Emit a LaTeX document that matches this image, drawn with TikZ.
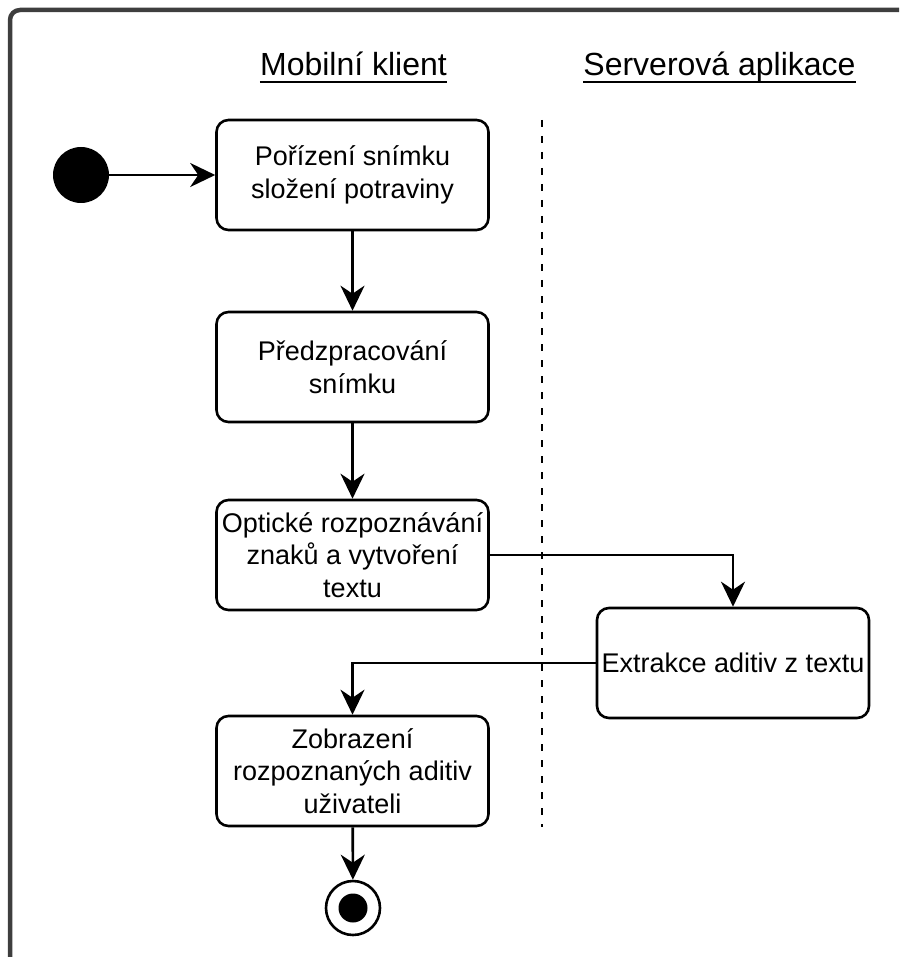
\documentclass[tikz,border=0pt]{standalone}
\usepackage{fontspec}
\setmainfont{Liberation Sans}
\usetikzlibrary{arrows.meta}
\begin{document}
\begin{tikzpicture}[x=1pt,y=-1pt,
  every node/.style={font=\fontsize{27}{32.4}\selectfont},
  act/.style={draw, line width=2.6pt, rounded corners=12pt,
    minimum width=272pt, minimum height=110pt, align=center, inner sep=0pt},
  flow/.style={line width=2.6pt, -{Stealth[length=25pt,width=24pt,inset=8pt]}},
  lanehead/.style={font=\fontsize{32}{38}\selectfont, inner sep=0pt, anchor=base},
  underl/.style={line width=2.6pt},
  lane/.style={line width=2.6pt, dash pattern=on 7pt off 9pt},
]
\useasboundingbox (0,0) rectangle (899,957);

% outer frame (runs past the right and bottom edges)
\begin{scope}
  \clip (0,0) rectangle (899,957);
  \draw[line width=4.5pt, draw={rgb,255:red,62;green,62;blue,62}, rounded corners=10pt]
    (10,10) rectangle (1000,1000);
\end{scope}

% swimlane headers, underlined
\node[lanehead] (hmob) at (353.5,76) {Mobilní klient};
\node[lanehead] (hsrv) at (719.5,76) {Serverová aplikace};
\draw[underl] ([yshift=-6pt]hmob.base west) -- ([yshift=-6pt]hmob.base east);
\draw[underl] ([yshift=-6pt]hsrv.base west) -- ([yshift=-6pt]hsrv.base east);

% lane separator
\coordinate (laneTop) at (542,120);
\coordinate (laneBot) at (542,827);
\draw[lane] (laneTop) -- (laneBot);

% activities
\node[act] (b1) at (352.5,175) {Pořízení snímku\\složení potraviny};
\node[act] (b2) at (352.5,367) {Předzpracování\\snímku};
\node[act] (b3) at (352.5,555) {Optické rozpoznávání\\znaků a vytvoření\\textu};
\node[act] (b4) at (733,663) {Extrakce aditiv z textu};
\node[act] (b5) at (352.5,771) {Zobrazení\\rozpoznaných aditiv\\uživateli};

% initial and final states
\node[circle, fill=black, inner sep=0pt, minimum size=56pt] (start) at (81,175) {};
\node[circle, draw, line width=2.6pt, inner sep=0pt, minimum size=54pt] (fin) at (353,908) {};
\node[circle, fill=black, inner sep=0pt, minimum size=29pt] (finDot) at (fin.center) {};

% control flow
\draw[flow] (start) -- (b1);
\draw[flow] (b1) -- (b2);
\draw[flow] (b2) -- (b3);
\draw[flow] (b3.east) -| (b4.north);
\draw[flow] (b4.west) -| (b5.north);
\draw[flow] (b5) -- (fin);
\end{tikzpicture}
\end{document}
